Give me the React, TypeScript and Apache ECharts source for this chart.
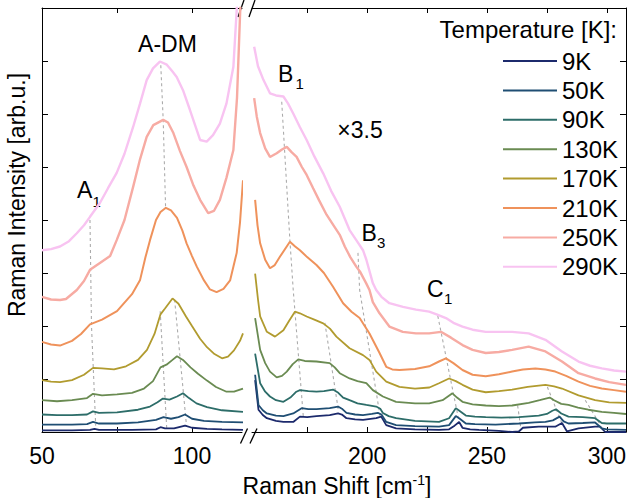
import React, { useEffect, useRef } from 'react';
import * as echarts from 'echarts';

const temps = ['9K', '50K', '90K', '130K', '170K', '210K', '250K', '290K'];
const colors = ['#1c2a6c', '#1f4e73', '#2d6d69', '#6a8b52', '#b19b2f', '#ef925b', '#f7aba3', '#f8c3f1'];

// Left segment (50–117 cm-1), offset intensities
const left9K = [[50,0.03],[60,0.03],[66,0.04],[67.5,0.06],[69,0.04],[80,0.04],[88,0.05],[89.5,0.09],[91,0.07],[94,0.07],[97.7,0.12],[100,0.08],[105,0.06],[110,0.05],[117,0.04]];
const left50K = [[50,0.14],[55,0.14],[60,0.14],[65,0.15],[67,0.19],[69,0.16],[75,0.16],[82,0.18],[88,0.23],[90.5,0.28],[93,0.25],[95.5,0.28],[97.7,0.33],[100,0.25],[104,0.21],[110,0.19],[117,0.18]];
const left90K = [[50,0.33],[55,0.32],[60,0.32],[65,0.33],[67,0.39],[69,0.36],[75,0.37],[82,0.42],[86,0.48],[88.5,0.56],[90.3,0.63],[92.5,0.61],[95,0.67],[97,0.73],[99,0.64],[101.5,0.54],[105,0.47],[110,0.41],[117,0.38]];
const left130K = [[50,0.6],[55,0.58],[60,0.6],[65,0.64],[67,0.72],[70,0.69],[75,0.71],[80,0.74],[84,0.82],[87,0.96],[89.5,1.22],[91.5,1.27],[93.5,1.36],[95,1.43],[97,1.36],[99.5,1.22],[102,1.1],[105,0.97],[108,0.85],[111.5,0.76],[114,0.76],[117,0.82]];
const left170K = [[50,0.98],[53,0.95],[56,0.94],[60,0.98],[64,1.08],[67,1.21],[70,1.2],[74,1.18],[78,1.24],[82,1.36],[85,1.55],[87.5,1.85],[89.5,2.22],[91,2.33],[93.5,2.52],[95.5,2.42],[98,2.18],[100,2.0],[102.7,1.76],[105,1.6],[107.5,1.47],[110,1.39],[112,1.42],[114,1.54],[116,1.72],[117,1.86]];
const left210K = [[50,1.7],[53,1.65],[56,1.63],[60,1.72],[63,1.85],[66,2.03],[70,2.12],[75,2.28],[80,2.6],[82.7,2.87],[84.5,3.3],[86,3.62],[88,4.0],[89.5,4.15],[91.3,4.23],[93,4.18],[95,4.04],[96.8,3.8],[98.2,3.56],[100,3.32],[101.6,3.12],[104,2.86],[106,2.69],[108.2,2.64],[110.5,2.7],[112.7,2.86],[114.9,3.38],[116,3.95],[117,4.75]];
const left250K = [[50,2.55],[53,2.5],[56,2.49],[58,2.51],[61.6,2.68],[64,2.85],[66,3.06],[69.3,3.19],[72.7,3.32],[74.9,3.62],[77.5,4.0],[80.4,4.63],[82.7,5.15],[84.9,5.57],[87.1,5.79],[90.4,5.89],[92,5.84],[93.8,5.64],[96,5.3],[98.2,5.0],[100.5,4.65],[102.7,4.38],[105.4,4.13],[107.3,4.17],[109.3,4.38],[111.5,4.8],[113.8,5.32],[115,6.3],[116,7.84],[117,9.2]];
const left290K = [[50,3.43],[53,3.45],[56,3.5],[59,3.6],[61.6,3.75],[64,3.9],[66,4.06],[69.3,4.32],[72,4.6],[74.9,4.89],[77.5,5.25],[80.4,5.76],[82.7,6.2],[84.9,6.64],[87,6.86],[89.3,6.99],[91.6,6.93],[93.5,6.8],[94.9,6.7],[97,6.45],[99.3,6.08],[102.7,5.51],[104.9,5.48],[107,5.6],[109.3,5.82],[111.5,6.2],[113.8,6.89],[114.9,7.96],[116,9.5]];

// Right segment (152–308 cm-1), displayed ×3.5 with the same offsets
const right9K = [[153.3,0.98],[154.7,0.42],[156.5,0.32],[158.2,0.26],[162,0.21],[165.1,0.19],[169.2,0.19],[172,0.29],[175,0.28],[178.9,0.3],[184.4,0.32],[187.9,0.35],[189.5,0.33],[191.4,0.26],[195,0.24],[198.3,0.23],[203.8,0.26],[205.9,0.29],[208,0.13],[212.1,0.07],[220,0.05],[230,0.04],[234.2,0.05],[236.5,0.12],[238.4,0.19],[239.8,0.08],[243,0.05],[246.7,0.04],[255,0.02],[260.5,0.0],[263.3,0.01],[265,0.08],[271.6,0.1],[278.5,0.1],[281.3,0.17],[283.4,0.01],[288.2,0.07],[295.1,0.1],[297.2,0.1],[299.3,0.0],[308,0.0]];
const right50K = [[153.3,1.08],[154.7,0.51],[156.5,0.41],[158.2,0.35],[162,0.31],[165.1,0.3],[169.2,0.35],[172.7,0.45],[175.5,0.43],[178.9,0.43],[184.4,0.45],[187.9,0.48],[189.5,0.44],[191.4,0.36],[195,0.33],[198.3,0.32],[202,0.34],[204.5,0.36],[206,0.33],[208,0.19],[212.1,0.13],[220,0.11],[230,0.1],[234.2,0.13],[237,0.3],[238.4,0.26],[241.2,0.16],[245,0.15],[253.6,0.14],[263.3,0.16],[270,0.18],[274.4,0.19],[277.5,0.22],[280.3,0.29],[282,0.2],[284,0.16],[290,0.17],[295.1,0.18],[297.9,0.07],[300,0.05],[308,0.04]];
const right90K = [[153.3,1.48],[155.4,0.92],[157.5,0.76],[159.5,0.67],[162,0.6],[165.1,0.57],[168,0.65],[170.5,0.76],[172,0.79],[175.5,0.77],[178.9,0.76],[182,0.77],[185.8,0.8],[188,0.74],[190,0.65],[192.7,0.6],[196,0.54],[199.7,0.51],[203.8,0.48],[205.5,0.44],[206.6,0.36],[209,0.3],[212.1,0.26],[220,0.21],[230,0.19],[234.2,0.26],[237,0.45],[238.5,0.4],[241.2,0.31],[245,0.29],[249.5,0.28],[256,0.27],[263.3,0.28],[271.6,0.31],[275,0.34],[277.3,0.4],[278.8,0.43],[281,0.35],[284,0.29],[290,0.28],[295.1,0.26],[297.9,0.17],[300,0.16],[308,0.16]];
const right130K = [[153.3,2.15],[155.4,1.55],[157.5,1.3],[159.5,1.14],[162.3,1.03],[164.5,1.06],[166.5,1.14],[169,1.28],[171.3,1.37],[174,1.34],[178.9,1.33],[184.4,1.3],[186.5,1.22],[188.6,1.11],[192.7,1.01],[196,0.96],[199.7,0.92],[202.4,0.79],[206.6,0.67],[212.1,0.57],[220,0.54],[225.9,0.54],[231.5,0.6],[235.6,0.73],[237.5,0.65],[239.8,0.57],[244,0.52],[249.5,0.5],[255,0.49],[260.5,0.5],[267.4,0.55],[272,0.6],[276.2,0.65],[278,0.6],[281,0.53],[284,0.51],[288,0.46],[292.3,0.42],[297.9,0.38],[303,0.36],[308,0.34]];
const right170K = [[153.3,2.99],[154.5,2.5],[155.4,2.18],[158.2,1.89],[161.6,1.8],[165.1,1.92],[167.5,2.1],[169.9,2.27],[172,2.24],[174.8,2.18],[178,2.12],[181.7,2.05],[184.5,1.95],[187.2,1.8],[192.7,1.58],[198.3,1.45],[201,1.36],[203.8,1.14],[208,0.95],[213.5,0.85],[220,0.82],[226,0.84],[230,0.92],[234.2,1.01],[237,0.96],[239.8,0.89],[244,0.8],[249.5,0.75],[255,0.77],[260.5,0.8],[267,0.85],[274.4,0.89],[278,0.86],[281.3,0.82],[288.2,0.69],[295.1,0.6],[301,0.56],[308,0.55]];
const right210K = [[153.3,4.38],[154.3,3.9],[155.4,3.56],[157.5,3.25],[159.5,3.09],[161.5,3.15],[163.7,3.31],[167.8,3.59],[170,3.5],[172,3.43],[175,3.3],[178.9,3.15],[182,3.0],[185.8,2.74],[190,2.43],[193.5,2.27],[196.9,2.15],[201,1.86],[205.2,1.49],[208,1.23],[210.5,1.18],[213.5,1.17],[220,1.19],[225.9,1.24],[230,1.33],[232.9,1.39],[236,1.3],[239.8,1.17],[244,1.08],[249.5,1.05],[255,1.09],[260.5,1.14],[265,1.18],[270.2,1.2],[274.4,1.18],[278.5,1.14],[283,1.06],[288.2,0.95],[293,0.87],[297.9,0.82],[303,0.79],[308,0.76]];
const right250K = [[152.9,6.3],[154,5.95],[155.4,5.64],[157.5,5.35],[159.5,5.19],[162.3,5.26],[164.5,5.33],[166.5,5.38],[168.5,5.28],[170.6,5.19],[172.8,5.0],[174.8,4.85],[177.5,4.6],[180,4.37],[183.1,4.1],[186,3.9],[188.6,3.72],[190.7,3.5],[193,3.3],[195.5,3.12],[197,3.03],[199.7,2.8],[201,2.68],[202.4,2.45],[205.2,2.24],[209.3,1.99],[214.9,1.89],[220.4,1.86],[225.9,1.86],[230.8,1.89],[235,1.78],[239.8,1.64],[244,1.55],[249.5,1.49],[255,1.51],[260.5,1.55],[267.4,1.61],[274.4,1.52],[281.3,1.33],[288.2,1.11],[295.1,1.01],[301,0.94],[308,0.89]];
const right290K = [[152.9,7.27],[154.5,6.9],[156.8,6.64],[159.5,6.39],[162,6.35],[165.1,6.33],[167,6.2],[169.2,6.01],[172,5.75],[174.8,5.51],[178,5.2],[181.7,4.88],[185,4.55],[188.6,4.25],[192.7,3.81],[195.5,3.62],[198.3,3.43],[199.7,3.25],[202.4,2.81],[203.8,2.68],[206,2.55],[209.3,2.43],[215,2.36],[220.4,2.31],[225.9,2.27],[229,2.22],[232.9,2.15],[236,2.06],[239.8,1.99],[244,1.93],[249.5,1.89],[255,1.89],[260.5,1.89],[267.4,1.86],[274.4,1.74],[281.3,1.52],[288.2,1.33],[293,1.25],[297.9,1.2],[303,1.16],[308,1.14]];

// Peak-tracking guide lines
const guidesLeft = [
  [[66, 4.0], [66.5, 2.0], [67.9, 0.12]],
  [[89.6, 6.92], [90.4, 5.89], [91.2, 4.23]],
  [[89.4, 2.28], [91.6, 0.05]],
  [[94.2, 2.5], [98.2, 0.1]],
];
const guidesRight = [
  [[164.4, 6.23], [167.8, 3.62], [169.2, 2.68], [173.4, 0.29]],
  [[182.4, 2.06], [188, 0.42]],
  [[196.2, 3.38], [196.9, 2.68], [205.5, 0.28]],
  [[229.5, 2.19], [238.4, 0.19]],
  [[262.8, 0.5], [264.2, 0.05]],
  [[275.2, 0.85], [281.2, 0.17]],
  [[291, 0.6], [297.5, 0.12]],
];

const leftSets = [left9K, left50K, left90K, left130K, left170K, left210K, left250K, left290K];
const rightSets = [right9K, right50K, right90K, right130K, right170K, right210K, right250K, right290K];

const xTicksLeft = [75, 100];
const xLabelsLeft = [50, 100];
const xTicksRight = [175, 200, 225, 250, 275, 300];
const xLabelsRight = [200, 250, 300];

const FONT = '"Liberation Sans", Arial, sans-serif';

export default function App() {
  const ref = useRef<HTMLDivElement>(null);
  useEffect(() => {
    if (!ref.current) return;
    const chart = echarts.init(ref.current, undefined, { renderer: 'svg' });
    const axisLine = { show: true, onZero: false, lineStyle: { color: '#000', width: 1 } };
    const mkX = (grid: number, pos: string, min: number, max: number, ticks: number[], labels: number[] | null) => ({
      type: 'value', gridIndex: grid, position: pos, min, max,
      axisLine,
      axisTick: { show: true, inside: true, length: 5, customValues: ticks, lineStyle: { color: '#000' } },
      axisLabel: labels ? { show: true, customValues: labels, fontSize: 23, color: '#000', margin: 12, fontFamily: FONT } : { show: false },
      splitLine: { show: false },
    });
    const mkY = (grid: number, pos: string) => ({
      type: 'value', gridIndex: grid, position: pos, min: 0, max: 8, interval: 1,
      axisLine,
      axisTick: { show: true, inside: true, length: 6, lineStyle: { color: '#000' } },
      axisLabel: { show: false },
      splitLine: { show: false },
    });
    const series: any[] = [];
    const guideStyle = { color: '#ababab', width: 1.1, type: [3, 3] };
    guidesLeft.forEach((g) => series.push({ type: 'line', xAxisIndex: 0, yAxisIndex: 0, data: g, symbol: 'none', lineStyle: guideStyle, z: 1, silent: true }));
    guidesRight.forEach((g) => series.push({ type: 'line', xAxisIndex: 2, yAxisIndex: 1, data: g, symbol: 'none', lineStyle: guideStyle, z: 1, silent: true }));
    temps.forEach((t, i) => {
      const w = i >= 6 ? 2.4 : i === 5 ? 2 : 1.8;
      series.push({ name: t, type: 'line', xAxisIndex: 0, yAxisIndex: 0, data: leftSets[i], symbol: 'none', lineStyle: { color: colors[i], width: w }, itemStyle: { color: colors[i] }, z: 2 });
      series.push({ name: t, type: 'line', xAxisIndex: 2, yAxisIndex: 1, data: rightSets[i], symbol: 'none', lineStyle: { color: colors[i], width: w }, itemStyle: { color: colors[i] }, z: 2 });
    });
    const txt = (x: number, y: number, text: string, size = 23, align = 'left', extra: any = {}) => ({
      type: 'text', x, y, silent: true, ...extra,
      style: { text, fontSize: size, fontFamily: FONT, fill: '#000', align, verticalAlign: 'middle' },
    });
    const slash = (x1: number, y1: number, x2: number, y2: number) => ({
      type: 'line', silent: true, shape: { x1, y1, x2, y2 }, style: { stroke: '#000', lineWidth: 1.3 },
    });
    chart.setOption({
      animation: false,
      textStyle: { fontFamily: FONT },
      grid: [
        { left: 42, top: 8, width: 200, height: 424 },
        { left: 252, top: 8, width: 376, height: 424 },
      ],
      xAxis: [
        mkX(0, 'bottom', 50, 116.67, xTicksLeft, xLabelsLeft),
        mkX(0, 'top', 50, 116.67, xTicksLeft, null),
        mkX(1, 'bottom', 152, 308, xTicksRight, xLabelsRight),
        mkX(1, 'top', 152, 308, xTicksRight, null),
      ],
      yAxis: [mkY(0, 'left'), mkY(1, 'right')],
      legend: {
        data: temps.map((name) => ({ name, icon: 'rect' })),
        orient: 'vertical', left: 503, top: 49, padding: 0,
        itemWidth: 54, itemHeight: 2, itemGap: 5.4, selectedMode: false,
        textStyle: { fontSize: 24, color: '#000', fontFamily: FONT },
      },
      series,
      graphic: [
        txt(617, 29, 'Temperature [K]:', 24, 'right'),
        txt(17, 195, 'Raman Intensity [arb.u.]', 23, 'center', { rotation: Math.PI / 2 }),
        {
          type: 'text', x: 337, y: 485, silent: true,
          style: {
            text: '{a|Raman Shift [cm}{b|-1}{a|]}', align: 'center', verticalAlign: 'middle', fill: '#000',
            rich: {
              a: { fontSize: 23, fontFamily: FONT, fill: '#000', lineHeight: 24, verticalAlign: 'bottom' },
              b: { fontSize: 14, fontFamily: FONT, fill: '#000', lineHeight: 14, verticalAlign: 'top' },
            },
          },
        },
        txt(167.5, 43.5, 'A-DM', 23, 'center'),
        txt(77, 189.5, 'A'), txt(92.5, 201, '1', 15),
        txt(278, 74, 'B'), txt(295.5, 83.5, '1', 15),
        txt(360, 130, '×3.5', 23, 'center'),
        txt(361.5, 233, 'B'), txt(377, 242, '3', 15),
        txt(427, 289, 'C'), txt(444, 298.5, '1', 15),
        slash(240.5, 443.5, 247.5, 428.5),
        slash(250, 443.5, 257, 428.5),
        slash(238, 17, 244, 0),
        slash(249, 17, 255, 0),
      ],
    });
    return () => chart.dispose();
  }, []);
  return <div ref={ref} style={{ position: 'fixed', left: 0, top: 0, width: 629, height: 498, background: '#fff' }} />;
}
